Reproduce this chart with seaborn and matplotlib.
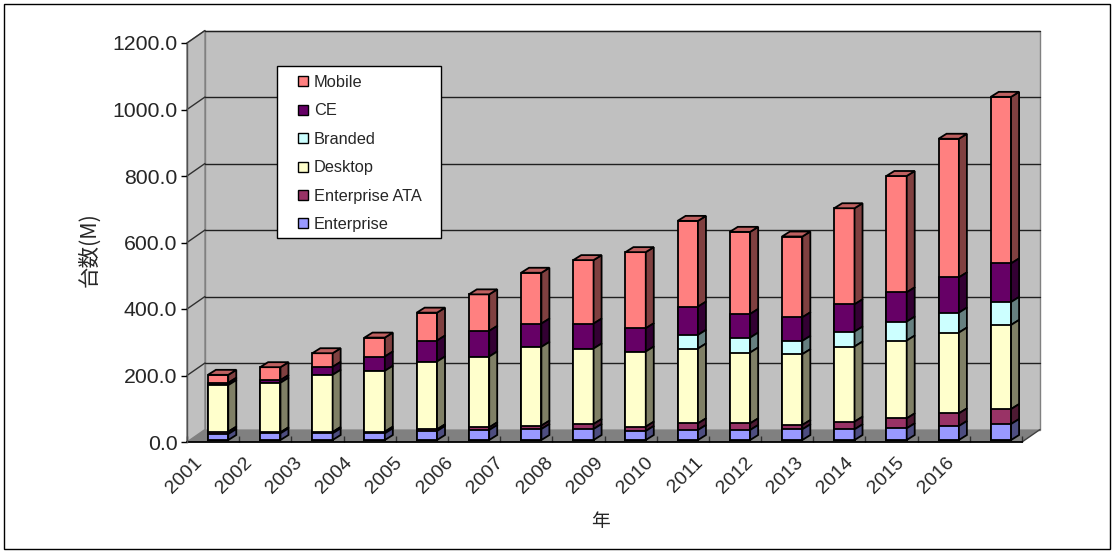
import numpy as np
import pandas as pd
import matplotlib
matplotlib.use("Agg")
import matplotlib.pyplot as plt
import matplotlib.transforms as mtransforms
import matplotlib.colors as mcolors
from matplotlib.patches import Polygon, Rectangle
from matplotlib.lines import Line2D
import seaborn as sns

# ---- data (millions of units shipped) ----
years = [str(y) for y in range(2001, 2017)]
enterprise     = [18, 20, 20, 20, 27, 30, 33, 33, 27, 30, 30, 32, 32, 35, 42, 48]
enterprise_ata = [7, 3, 4, 5, 5, 8, 10, 15, 13, 20, 20, 13, 23, 30, 38, 45]
desktop        = [140, 149, 172, 183, 204, 213, 237, 227, 226, 225, 213, 213, 226, 234, 243, 253]
branded        = [0, 0, 0, 0, 0, 0, 0, 0, 0, 41, 45, 40, 45, 57, 60, 69]
ce             = [7, 8, 24, 43, 63, 77, 70, 75, 70, 85, 71, 71, 82, 88, 106, 116]
mobile         = [24, 39, 41, 57, 84, 110, 153, 191, 229, 258, 247, 243, 289, 350, 417, 501]

series_names = ["Enterprise", "Enterprise ATA", "Desktop", "Branded", "CE", "Mobile"]
series_vals = [enterprise, enterprise_ata, desktop, branded, ce, mobile]
series_colors = ["#9999FF", "#993366", "#FFFFCC", "#CCFFFF", "#660066", "#FF8080"]

df = pd.DataFrame({"year": years})
for name, vals in zip(series_names, series_vals):
    df[name] = vals
cum = df[series_names].cumsum(axis=1)
for name in series_names:
    df["top_" + name] = cum[name]
    df["low_" + name] = cum[name] - df[name]

# ---- figure layout (pixels) ----
W, H, DPI = 1115, 553, 100
sns.set_style("white")
plt.rcParams["font.family"] = ["Liberation Sans", "Noto Sans CJK JP", "DejaVu Sans"]

fig = plt.figure(figsize=(W / DPI, H / DPI), dpi=DPI)
fig.patch.set_facecolor("white")

ax_l, ax_r, ax_b, ax_t = 187, 1022, 442, 43
ax = fig.add_axes([ax_l / W, 1 - ax_b / H, (ax_r - ax_l) / W, (ax_b - ax_t) / H])
ax.set_facecolor("none")
ax.set_xlim(-0.5, 15.5)
ax.set_ylim(0, 1200)

sx = 16 / (ax_r - ax_l)        # data units per pixel, x
sy = 1200 / (ax_b - ax_t)      # data units per pixel, y

# ---- walls and floor of the 3D box ----
wdx, wdy = 18 * sx, 12.5 * sy
wall_c = "#C0C0C0"
ax.add_patch(Rectangle((-0.5 + wdx, wdy), 16, 1200, fc=wall_c, ec="#808080",
                       lw=1, clip_on=False, zorder=0))
ax.add_patch(Polygon([(-0.5, 0), (-0.5, 1200), (-0.5 + wdx, 1200 + wdy), (-0.5 + wdx, wdy)],
                     closed=True, fc=wall_c, ec="#808080", lw=1, clip_on=False, zorder=0))
ax.add_patch(Polygon([(-0.5, 0), (15.5, 0), (15.5 + wdx, wdy), (-0.5 + wdx, wdy)],
                     closed=True, fc="#808080", ec="none", clip_on=False, zorder=0.1))
ax.plot([15.5, 15.5 + wdx], [0, wdy], color="#404040", lw=1, clip_on=False, zorder=0.2)

yticks = np.arange(0, 1201, 200)
for v in yticks[1:]:
    ax.plot([-0.5 + wdx, 15.5 + wdx], [v + wdy, v + wdy], color="#202020", lw=1,
            clip_on=False, zorder=0.3)
    ax.plot([-0.5, -0.5 + wdx], [v, v + wdy], color="#303030", lw=1,
            clip_on=False, zorder=0.3)

# ---- stacked bars (front faces) ----
bar_shift = mtransforms.ScaledTranslation(5 / DPI, 2 / DPI, fig.dpi_scale_trans)
bar_trans = ax.transData + bar_shift
bar_w = 0.39
edge_lw = 1.3

segments = []
for name, color in zip(reversed(series_names), reversed(series_colors)):
    n0 = len(ax.patches)
    sns.barplot(data=df, x="year", y="top_" + name, color=color, saturation=1,
                width=bar_w, errorbar=None, edgecolor="black", linewidth=edge_lw,
                ax=ax, zorder=2)
    new = ax.patches[n0:]
    for i, p in enumerate(new):
        p.set_transform(bar_trans)
        segments.append((name, color, p.get_x(), p.get_x() + p.get_width(),
                         df["low_" + name][i], df["top_" + name][i],
                         df[name][i]))

# ---- side and top faces of each bar ----
bdx, bdy = 8 * sx, 5 * sy

def shade(c, f):
    r, g, b = mcolors.to_rgb(c)
    return (r * f, g * f, b * f)

for name, color, xl, xr, lo, hi, val in segments:
    if val <= 0:
        continue
    side = Polygon([(xr, lo), (xr, hi), (xr + bdx, hi + bdy), (xr + bdx, lo + bdy)],
                   closed=True, fc=shade(color, 0.5), ec="black", lw=edge_lw,
                   transform=bar_trans, clip_on=False, zorder=2.1)
    ax.add_patch(side)
    if name == "Mobile":
        top = Polygon([(xl, hi), (xr, hi), (xr + bdx, hi + bdy), (xl + bdx, hi + bdy)],
                      closed=True, fc=shade(color, 0.75), ec="black", lw=edge_lw,
                      transform=bar_trans, clip_on=False, zorder=2.2)
        ax.add_patch(top)

# ---- axes styling ----
for s in ["top", "right"]:
    ax.spines[s].set_visible(False)
ax.spines["left"].set_color("#505050")
ax.spines["left"].set_linewidth(1)
ax.spines["bottom"].set_color("black")
ax.spines["bottom"].set_linewidth(1.3)
ax.spines["bottom"].set_zorder(1)

ax.set_yticks(yticks)
ax.set_yticklabels([f"{v:.1f}" for v in yticks])
ax.tick_params(axis="y", length=4, width=1, color="black", pad=3, labelsize=15.3,
               direction="out", left=True)

ax.set_xticks(np.arange(-0.5, 16, 1), minor=True)
ax.tick_params(axis="x", which="major", length=0, labelbottom=False)
ax.tick_params(axis="x", which="minor", length=4, width=1, color="#303030",
               direction="in", bottom=True)
ax.set_xlabel("")
ax.set_ylabel("")

# year labels along the floor edge (slightly tighter spacing than the bars)
ax2 = ax.twiny()
ax2.set_xlim(-0.249, 16.408)
ax2.set_xticks([])
for s in ax2.spines.values():
    s.set_visible(False)
lab_trans = (mtransforms.blended_transform_factory(ax2.transData, ax2.transAxes)
             + mtransforms.ScaledTranslation(0, -18 / DPI, fig.dpi_scale_trans))
for i, yr in enumerate(years):
    ax2.text(i, 0, yr, transform=lab_trans, rotation=45, rotation_mode="anchor",
             ha="right", va="center", fontsize=14, clip_on=False)

# axis titles
ax.set_ylabel("台数(M)", fontsize=15.5, family=["Noto Sans CJK JP"], va="center")
ax.yaxis.set_label_coords((89 - ax_l) / (ax_r - ax_l), (ax_b - 250) / (ax_b - ax_t))
ax.set_xlabel("年", fontsize=13.5, family=["Noto Sans CJK JP"], va="center")
ax.xaxis.set_label_coords((600 - ax_l) / (ax_r - ax_l), (ax_b - 521) / (ax_b - ax_t))

# ---- legend: white box with the entries laid out inside ----
ax.add_patch(Rectangle((277 / W, 1 - 238 / H), (441 - 277) / W, (238 - 66) / H,
                       transform=fig.transFigure, fc="white", ec="black", lw=1,
                       clip_on=False, zorder=4))
handles = [Line2D([], [], marker="s", markersize=7.2, markerfacecolor=c,
                  markeredgecolor="black", markeredgewidth=1, linestyle="none")
           for c in reversed(series_colors)]
labels = list(reversed(series_names))
leg = ax.legend(handles, labels, loc="upper left",
                bbox_to_anchor=(291 / W, 1 - 75 / H),
                bbox_transform=fig.transFigure, frameon=False, borderpad=0,
                labelspacing=0.82, handlelength=1.46, handletextpad=-0.06,
                borderaxespad=0, prop={"family": "Liberation Sans", "size": 11.8})
leg.set_zorder(5)

# outer chart border
fig.add_artist(Rectangle((4 / W, 1 - 549 / H), (1110 - 4) / W, (549 - 4) / H,
                         transform=fig.transFigure, fill=False, ec="black", lw=1))

fig.savefig("out.png", dpi=DPI, facecolor="white")
